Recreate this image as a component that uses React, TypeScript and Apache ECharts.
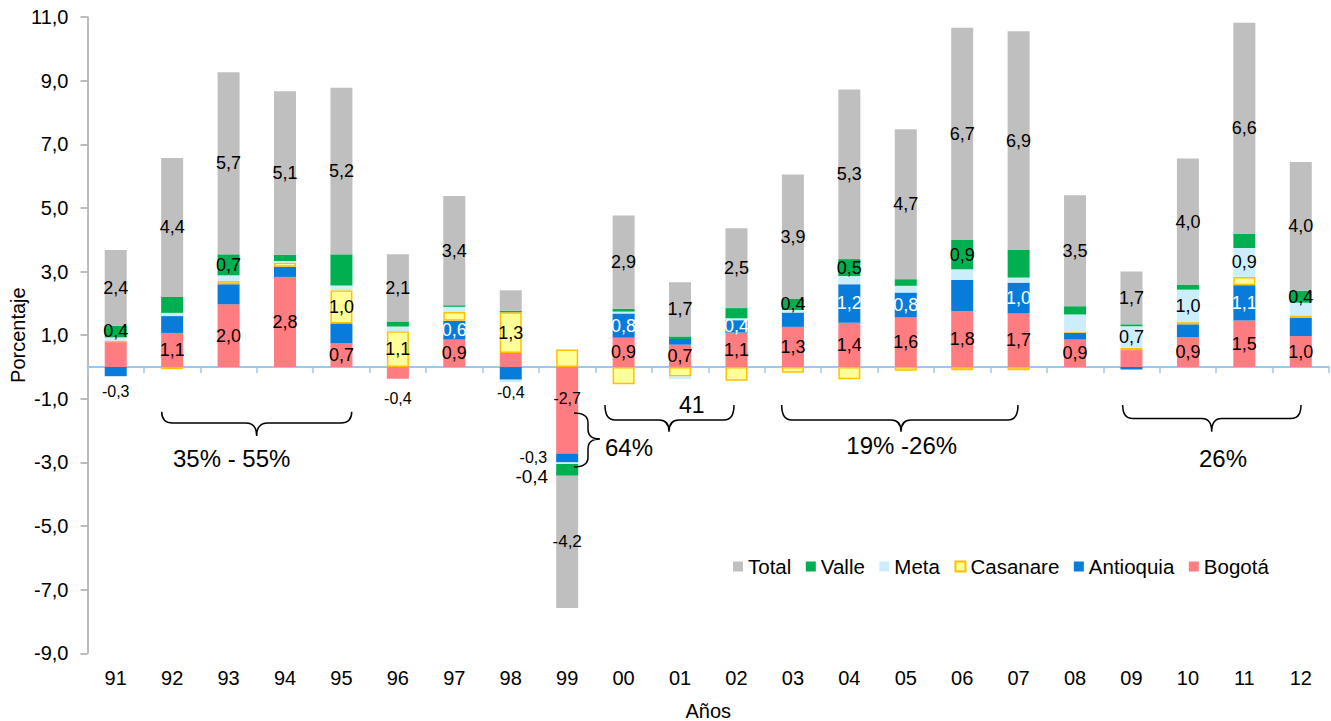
import React, { useEffect, useRef } from 'react';
import * as echarts from 'echarts';

const FONT = "'Liberation Sans', Arial, sans-serif";

// Categories (years)
const years = ['91', '92', '93', '94', '95', '96', '97', '98', '99', '00', '01', '02', '03', '04', '05', '06', '07', '08', '09', '10', '11', '12'];

// Series values (percentage points)
const bogota = [0.78, 1.07, 1.97, 2.83, 0.74, -0.37, 0.86, 0.44, -2.72, 0.92, 0.70, 1.08, 1.26, 1.39, 1.56, 1.76, 1.68, 0.86, 0.53, 0.94, 1.46, 0.97];
const antioquia = [-0.29, 0.53, 0.63, 0.32, 0.63, 0, 0.59, -0.40, -0.28, 0.76, 0.18, 0.39, 0.45, 1.21, 0.78, 0.98, 0.97, 0.23, -0.08, 0.40, 1.11, 0.58];
const casanare = [0.05, -0.07, 0.10, 0.13, 1.04, 1.12, 0.28, 1.28, 0.55, -0.54, -0.30, -0.43, -0.18, -0.39, -0.12, -0.10, -0.10, 0, 0.07, 0.07, 0.26, 0.07];
const meta = [0.10, 0.10, 0.18, 0.05, 0.15, 0.15, 0.16, -0.08, -0.05, 0.06, -0.08, 0.06, 0.08, 0.26, 0.21, 0.33, 0.16, 0.56, 0.68, 1.02, 0.91, 0.40];
const valle = [0.37, 0.50, 0.66, 0.20, 0.98, 0.16, 0.05, 0.05, -0.37, 0.09, 0.08, 0.32, 0.36, 0.53, 0.21, 0.92, 0.87, 0.26, 0.06, 0.16, 0.45, 0.38];
const total = [2.38, 4.37, 5.72, 5.14, 5.24, 2.11, 3.43, 0.64, -4.16, 2.93, 1.70, 2.51, 3.90, 5.33, 4.71, 6.67, 6.87, 3.49, 1.66, 3.96, 6.63, 4.04];

// Which bars carry a value label
const labeled: Record<string, string[]> = {
  'Bogotá': ['92', '93', '94', '95', '96', '97', '99', '00', '01', '02', '03', '04', '05', '06', '07', '08', '10', '11', '12'],
  'Antioquia': ['91', '97', '98', '99', '00', '02', '04', '05', '07', '11'],
  'Casanare': ['95', '96', '98'],
  'Meta': ['09', '10', '11'],
  'Valle': ['91', '93', '99', '03', '04', '06', '12'],
  'Total': years.filter((y) => y !== '98'),
};

const legendOrder = ['Total', 'Valle', 'Meta', 'Casanare', 'Antioquia', 'Bogotá'];

// Label placement exceptions
const labelOverrides: Record<string, any> = {
  'Antioquia|91': { position: 'bottom', distance: 7, fontSize: 16, color: '#000' },
  'Bogotá|96': { position: 'bottom', distance: 12, fontSize: 16 },
  'Antioquia|98': { position: 'bottom', distance: 5, fontSize: 16, color: '#000' },
  'Bogotá|99': { position: 'inside', offset: [0, -12], fontSize: 16 },
  'Antioquia|99': { position: 'left', distance: 9, fontSize: 16, color: '#000' },
  'Valle|99': { position: 'left', distance: 8, offset: [0, 7], fontSize: 19 },
  'Total|99': { fontSize: 17 },
};

const seriesDefs = [
  { name: 'Bogotá', data: bogota, color: '#FF7C80', labelColor: '#000' },
  { name: 'Antioquia', data: antioquia, color: '#087CDA', labelColor: '#fff' },
  { name: 'Casanare', data: casanare, color: '#FFFF99', border: '#FFC000', labelColor: '#000' },
  { name: 'Meta', data: meta, color: '#CCEEFC', labelColor: '#000' },
  { name: 'Valle', data: valle, color: '#00B050', labelColor: '#000' },
  { name: 'Total', data: total, color: '#BFBFBF', labelColor: '#000' },
];

// Curly-brace annotations (pixel geometry)
function hBrace(x1: number, x2: number, yTop: number, yLine: number, xTip: number, yTip: number, r: number) {
  return `M${x1},${yTop} Q${x1},${yLine} ${x1 + r},${yLine} L${xTip - r},${yLine} Q${xTip},${yLine} ${xTip},${yTip} Q${xTip},${yLine} ${xTip + r},${yLine} L${x2 - r},${yLine} Q${x2},${yLine} ${x2},${yTop} `;
}
function vBrace(xEnd: number, xLine: number, xTip: number, yTop: number, yTip: number, yBot: number, r: number) {
  return `M${xEnd},${yTop} Q${xLine},${yTop} ${xLine},${yTop + r} L${xLine},${yTip - r} Q${xLine},${yTip} ${xTip},${yTip} Q${xLine},${yTip} ${xLine},${yTip + r} L${xLine},${yBot - r} Q${xLine},${yBot} ${xEnd},${yBot} `;
}
const bracePath =
  hBrace(161.7, 351.7, 411.7, 423, 256.7, 436, 11) +
  hBrace(605, 734, 405, 420, 669, 431.7, 10) +
  hBrace(781.7, 1018, 405, 420, 901, 431.7, 10) +
  hBrace(1122.7, 1301, 405, 418.5, 1211.7, 431.7, 10) +
  vBrace(574, 588, 600, 413, 439, 467, 10);

echarts.graphic.registerShape('braces', echarts.graphic.extendPath(bracePath, {}) as any);

const annotations = [
  { text: '35% - 55%', x: 231.7, y: 458, size: 24 },
  { text: '41', x: 691.7, y: 405, size: 23 },
  { text: '19% -26%', x: 901.7, y: 445, size: 24 },
  { text: '26%', x: 1223, y: 458, size: 24 },
  { text: '64%', x: 629, y: 447, size: 24 },
];

const fmt = (v: number) => v.toFixed(1).replace('.', ',');

export default function App() {
  const ref = useRef<HTMLDivElement>(null);
  useEffect(() => {
    if (!ref.current) return;
    const chart = echarts.init(ref.current, undefined, { renderer: 'svg' });
    const series = seriesDefs.map((d) => ({
      type: 'bar',
      name: d.name,
      stack: 'all',
      barWidth: 22,
      xAxisIndex: 0,
      yAxisIndex: 0,
      itemStyle: {
        color: d.color,
        borderColor: d.border || d.color,
        borderWidth: d.border ? 1.5 : 0,
      },
      label: {
        show: false,
        position: 'inside',
        fontSize: 18,
        fontFamily: FONT,
        color: d.labelColor,
        textBorderWidth: 0,
        formatter: (p: any) => fmt(typeof p.value === 'number' ? p.value : Number(p.value)),
      },
      data: d.data.map((v, i) => {
        const y = years[i];
        if (!labeled[d.name].includes(y)) return v;
        const ov = labelOverrides[`${d.name}|${y}`] || {};
        return { value: v, label: { show: true, ...ov } };
      }),
    }));

    chart.setOption({
      animation: false,
      textStyle: { fontFamily: FONT },
      grid: { left: 87.5, right: 2, top: 17, bottom: 67.7, containLabel: false, outerBoundsMode: 'none' },
      legend: {
        data: legendOrder,
        left: 733,
        top: 556,
        padding: 0,
        itemWidth: 10,
        itemHeight: 10,
        itemGap: 14.5,
        icon: 'rect',
        textStyle: { fontSize: 20.5, color: '#000', fontFamily: FONT },
      },
      xAxis: [
        {
          type: 'category',
          data: years,
          position: 'bottom',
          axisLine: { show: true, onZero: true, lineStyle: { color: '#9DC8EE', width: 2 } },
          axisTick: { show: true, length: 6, lineStyle: { color: '#9DC8EE', width: 1.5 } },
          axisLabel: { show: false },
          splitLine: { show: false },
        },
        {
          type: 'category',
          data: years,
          position: 'bottom',
          axisLine: { show: false, onZero: false },
          axisTick: { show: false },
          axisLabel: { show: true, fontSize: 20, color: '#000', margin: 15, fontFamily: FONT },
          splitLine: { show: false },
          name: 'Años',
          nameLocation: 'middle',
          nameGap: 48,
          nameTextStyle: { fontSize: 20, color: '#000', fontFamily: FONT },
        },
      ],
      yAxis: {
        type: 'value',
        min: -9,
        max: 11,
        interval: 2,
        axisLine: { show: true, lineStyle: { color: '#A6A6A6', width: 1.5 } },
        axisTick: { show: true, length: 7, lineStyle: { color: '#A6A6A6', width: 1.5 } },
        splitLine: { show: false },
        axisLabel: { fontSize: 20, color: '#000', margin: 19, fontFamily: FONT, formatter: (v: number) => fmt(v) },
        name: 'Porcentaje',
        nameLocation: 'middle',
        nameGap: 60,
        nameMoveOverlap: false,
        nameTextStyle: { fontSize: 20, color: '#000', fontFamily: FONT },
      },
      series,
      graphic: [
        {
          type: 'braces',
          silent: true,
          z: 100,
          style: { fill: 'none', stroke: '#000', lineWidth: 1.5 },
        },
        ...annotations.map((a) => ({
          type: 'text',
          x: a.x,
          y: a.y,
          silent: true,
          z: 100,
          style: {
            text: a.text,
            fontSize: a.size,
            fontFamily: FONT,
            fill: '#000',
            align: 'center',
            verticalAlign: 'middle',
          },
        })),
      ],
    });
    return () => chart.dispose();
  }, []);
  return <div ref={ref} style={{ position: 'absolute', left: 0, top: 0, width: 1331, height: 721 }} />;
}
